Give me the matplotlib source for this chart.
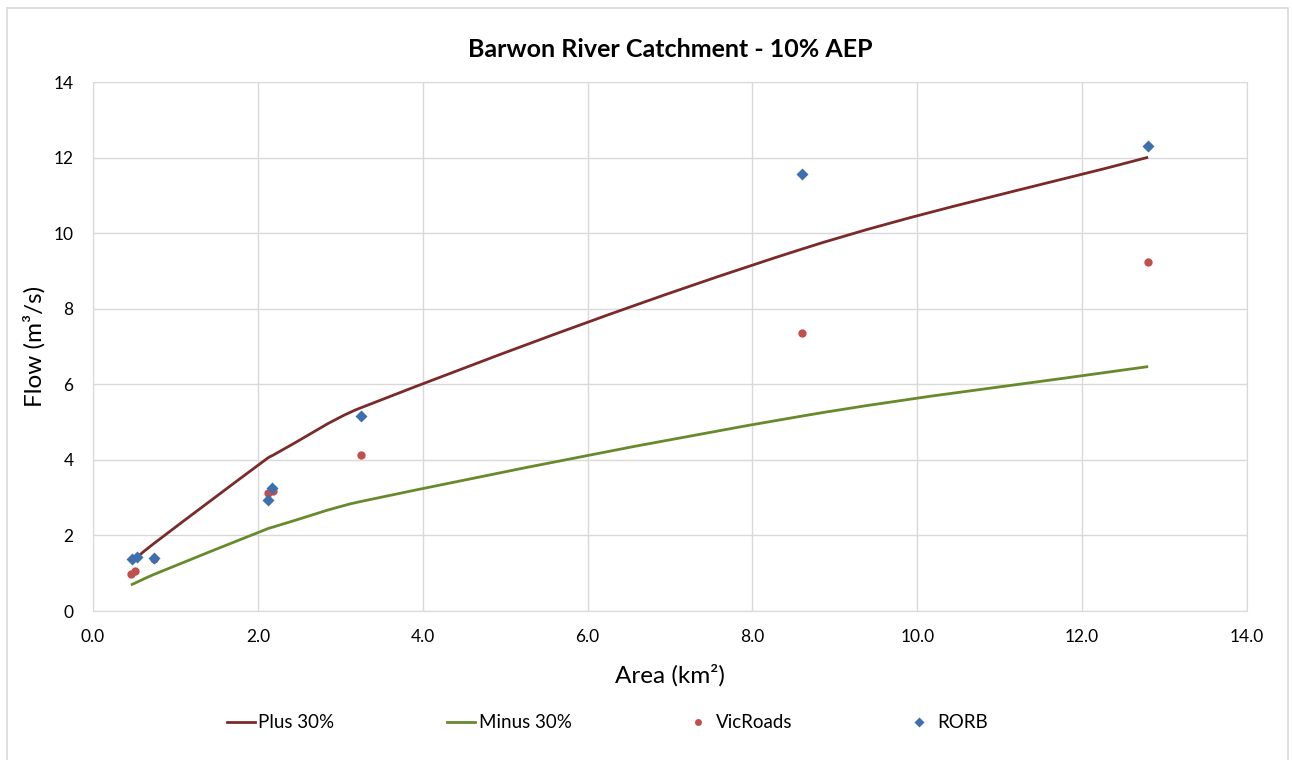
import matplotlib.pyplot as plt
from matplotlib.path import Path
from matplotlib.patches import PathPatch, Rectangle
from matplotlib.lines import Line2D

plt.rcParams['font.family'] = ['Lato', 'DejaVu Sans']

# catchment areas (km2) and flows (m3/s)
rorb_x = [0.47, 0.53, 0.74, 2.12, 2.17, 3.25, 8.6, 12.8]
rorb_y = [1.39, 1.44, 1.41, 2.94, 3.26, 5.17, 11.56, 12.31]

vic_x = [0.46, 0.51, 0.74, 2.12, 2.18, 3.25, 8.6, 12.8]
vic_y = [0.98, 1.06, 1.38, 3.12, 3.17, 4.14, 7.37, 9.23]

# envelope curves (+/- 30%)
plus_y = [1.27, 1.38, 1.79, 4.05, 4.12, 5.38, 9.58, 12.01]
minus_y = [0.69, 0.74, 0.97, 2.18, 2.22, 2.90, 5.16, 6.47]

x_ticks = [0, 2, 4, 6, 8, 10, 12, 14]
y_ticks = [0, 2, 4, 6, 8, 10, 12, 14]

c_plus = '#7B2A2A'
c_minus = '#668A2C'
c_vic = '#C0504D'
c_rorb = '#3E6FAE'


def smooth_path(xs, ys):
    # smoothed line: cubic hermite segments through every point
    n = len(xs)
    slopes = []
    for i in range(n):
        a = max(i - 1, 0)
        b = min(i + 1, n - 1)
        slopes.append((ys[b] - ys[a]) / (xs[b] - xs[a]))
    verts = [(xs[0], ys[0])]
    codes = [Path.MOVETO]
    for i in range(n - 1):
        h = (xs[i + 1] - xs[i]) / 3
        verts += [(xs[i] + h, ys[i] + slopes[i] * h),
                  (xs[i + 1] - h, ys[i + 1] - slopes[i + 1] * h),
                  (xs[i + 1], ys[i + 1])]
        codes += [Path.CURVE4] * 3
    return Path(verts, codes)


fig = plt.figure(figsize=(12.92, 7.6), dpi=100)
ax = fig.add_axes([0.072, 0.196, 0.8932, 0.696])

ax.add_patch(PathPatch(smooth_path(vic_x, plus_y), fill=False, color=c_plus, lw=2, zorder=3))
ax.add_patch(PathPatch(smooth_path(vic_x, minus_y), fill=False, color=c_minus, lw=2, zorder=3))
ax.plot(vic_x, vic_y, 'o', color=c_vic, ms=6, mec='none', zorder=4)
ax.plot(rorb_x, rorb_y, 'D', color=c_rorb, ms=6.2, mec='none', zorder=5)

ax.set_xlim(0, 14)
ax.set_ylim(0, 14)
ax.set_xticks(x_ticks)
ax.set_xticklabels([f'{v:.1f}' for v in x_ticks])
ax.set_yticks(y_ticks)
ax.tick_params(length=0, labelsize=12.5)
ax.tick_params(axis='x', pad=13)
ax.tick_params(axis='y', pad=14)
ax.grid(True, color='#D9D9D9', lw=1)
ax.set_axisbelow(True)
for s in ax.spines.values():
    s.set_color('#D9D9D9')

ax.set_title('Barwon River Catchment - 10% AEP', fontsize=18, fontweight='bold', pad=18)
ax.set_xlabel('Area (km²)', fontsize=17.5, labelpad=14)
ax.set_ylabel('Flow (m³/s)', fontsize=17.5, labelpad=6)

handles = [
    Line2D([], [], color=c_plus, lw=2),
    Line2D([], [], color=c_minus, lw=2),
    Line2D([], [], ls='none', marker='o', color=c_vic, ms=5, mec='none'),
    Line2D([], [], ls='none', marker='D', color=c_rorb, ms=5, mec='none'),
]
fig.legend(handles, ['Plus 30%', 'Minus 30%', 'VicRoads', 'RORB'],
           loc='center', bbox_to_anchor=(0.47, 0.049), ncol=4, frameon=False,
           fontsize=13.5, handlelength=1.5, handletextpad=0.2, columnspacing=6.0)

# chart border
fig.patches.append(Rectangle((0.0055, -0.01), 0.9915, 1.0, transform=fig.transFigure,
                             fill=False, ec='#D9D9D9', lw=1.2))

fig.savefig('out.png', dpi=100)
